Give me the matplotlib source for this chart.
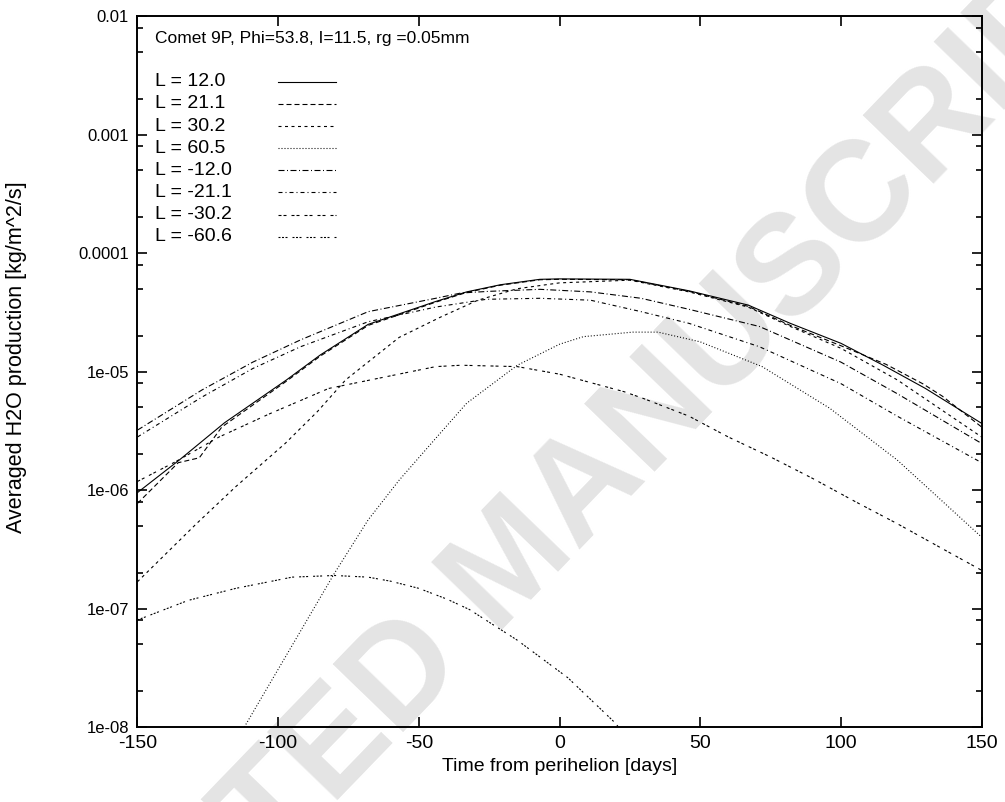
import numpy as np
import matplotlib
matplotlib.use("Agg")
import matplotlib.pyplot as plt
from matplotlib.ticker import LogLocator, FixedLocator, NullFormatter
from matplotlib.lines import Line2D

plt.rcParams['font.family'] = ['Liberation Sans', 'DejaVu Sans']
plt.rcParams['lines.scale_dashes'] = False

# ---- data ----
labels = ["L = 12.0", "L = 21.1", "L = 30.2", "L = 60.5",
          "L = -12.0", "L = -21.1", "L = -30.2", "L = -60.6"]

days_12 = [-150, -135, -119, -97, -85, -68, -44, -33, -21, -7, 0, 25, 46, 67, 82, 100, 115, 130, 150]
prod_12 = [9.5e-7, 1.8e-6, 3.7e-6, 8.5e-6, 1.38e-5, 2.5e-5, 3.9e-5, 4.7e-5, 5.4e-5, 6.0e-5, 6.05e-5, 6.0e-5,
           4.8e-5, 3.64e-5, 2.55e-5, 1.73e-5, 1.13e-5, 7.2e-6, 3.65e-6]

days_21 = [-150, -135.5, -128, -120, -97, -85, -68, -44, -33, -21, -7, 0, 25, 46, 67, 82, 100, 116, 129, 136, 150]
prod_21 = [7.7e-7, 1.7e-6, 1.87e-6, 3.4e-6, 8.3e-6, 1.35e-5, 2.45e-5, 3.85e-5, 4.65e-5, 5.35e-5, 5.95e-5, 6.0e-5,
           5.95e-5, 4.75e-5, 3.55e-5, 2.45e-5, 1.65e-5, 1.15e-5, 7.9e-6, 6.2e-6, 3.4e-6]

days_30 = [-150, -129, -115, -97.5, -86, -76, -57, -42, -29, -15, 0, 25, 46, 67, 82, 100, 120, 150]
prod_30 = [1.68e-7, 5.2e-7, 1.07e-6, 2.47e-6, 4.6e-6, 8.5e-6, 1.94e-5, 2.9e-5, 4.0e-5, 5.0e-5, 5.6e-5, 5.9e-5,
           4.7e-5, 3.5e-5, 2.4e-5, 1.57e-5, 8.5e-6, 2.8e-6]

days_60 = [-112, -80, -68, -57, -44, -33, -15, 0, 8.5, 26, 35, 50, 72, 96, 120, 150]
prod_60 = [1.0e-8, 1.98e-7, 5.6e-7, 1.21e-6, 2.73e-6, 5.4e-6, 1.13e-5, 1.7e-5, 1.97e-5, 2.15e-5, 2.15e-5,
           1.78e-5, 1.1e-5, 4.9e-6, 1.79e-6, 4.0e-7]

days_m12 = [-150, -127, -109, -92, -68, -44, -35, -25, -7, 11, 29, 46, 71, 100, 120, 150]
prod_m12 = [3.2e-6, 7.0e-6, 1.2e-5, 1.85e-5, 3.2e-5, 4.15e-5, 4.6e-5, 4.75e-5, 4.94e-5, 4.7e-5, 4.15e-5,
            3.35e-5, 2.4e-5, 1.2e-5, 6.5e-6, 2.47e-6]

days_m21 = [-150, -127, -109, -92, -68, -44, -26, -7, 11, 29, 46, 71, 100, 120, 150]
prod_m21 = [2.8e-6, 6.1e-6, 1.06e-5, 1.62e-5, 2.63e-5, 3.5e-5, 4.07e-5, 4.15e-5, 4.0e-5, 3.2e-5, 2.55e-5,
            1.62e-5, 7.9e-6, 4.2e-6, 1.7e-6]

days_m30 = [-150, -136.5, -121, -103, -82, -62, -44, -35, -15, 0, 23, 30, 46, 60, 75, 90, 105, 120, 135, 150]
prod_m30 = [1.18e-6, 1.73e-6, 2.8e-6, 4.4e-6, 7.2e-6, 9.0e-6, 1.1e-5, 1.13e-5, 1.1e-5, 9.5e-6, 6.75e-6, 5.9e-6,
            4.2e-6, 2.8e-6, 1.9e-6, 1.25e-6, 8.0e-7, 5.2e-7, 3.3e-7, 2.1e-7]

days_m60 = [-150, -132, -115, -95, -80, -68, -60, -50, -40, -32, -15, 3, 20, 23]
prod_m60 = [8.0e-8, 1.17e-7, 1.48e-7, 1.84e-7, 1.9e-7, 1.84e-7, 1.7e-7, 1.48e-7, 1.2e-7, 9.8e-8, 5.4e-8,
            2.6e-8, 1.07e-8, 8.5e-9]

xticks = [-150, -100, -50, 0, 50, 100, 150]
yticks = [1e-8, 1e-7, 1e-6, 1e-5, 1e-4, 1e-3, 1e-2]
ytick_labels = ["1e-08", "1e-07", "1e-06", "1e-05", "0.0001", "0.001", "0.01"]

series = [(days_12, prod_12), (days_21, prod_21), (days_30, prod_30), (days_60, prod_60),
          (days_m12, prod_m12), (days_m21, prod_m21), (days_m30, prod_m30), (days_m60, prod_m60)]

px = 0.72  # points per pixel at dpi 100
styles = [
    dict(linestyle='-'),
    dict(linestyle=(0, (5 * px, 3 * px))),
    dict(linestyle=(0, (3 * px, 3.5 * px))),
    dict(linestyle=(0, (1 * px, 2 * px))),
    dict(linestyle=(0, (6 * px, 2.5 * px, 1 * px, 2.5 * px))),
    dict(linestyle=(0, (4 * px, 3 * px, 1 * px, 3 * px))),
    dict(linestyle=(0, (3 * px, 2 * px, 3 * px, 5 * px))),
    dict(linestyle=(0, (2 * px, 1.5 * px, 2 * px, 1.5 * px, 2 * px, 5 * px))),
]

fig = plt.figure(figsize=(10.05, 8.02), dpi=100)
ax = fig.add_axes([0.1367, 0.0935, 0.8401, 0.8865])
ax.patch.set_alpha(0)

# watermark
fig.text(0.51, 0.295, "ACCEPTED MANUSCRIPT", fontsize=102, color='#e4e4e4', rotation=46,
         ha='center', va='center', zorder=-5, family='Liberation Sans', fontweight='bold')

for (d, v), st in zip(series, styles):
    ax.plot(d, v, color='black', lw=0.8, **st)

ax.set_yscale('log')
ax.set_xlim(-150, 150)
ax.set_ylim(1e-8, 1e-2)
ax.xaxis.set_major_locator(FixedLocator(xticks))
ax.set_xticklabels([str(t) for t in xticks])
ax.yaxis.set_major_locator(FixedLocator(yticks))
ax.set_yticklabels(ytick_labels)
ax.yaxis.set_minor_locator(LogLocator(base=10, subs=[2, 5, 8]))
ax.yaxis.set_minor_formatter(NullFormatter())

ax.tick_params(which='both', direction='in', top=True, right=True, width=1.2)
ax.tick_params(axis='x', labelsize=14)
ax.tick_params(axis='y', labelsize=12)
ax.tick_params(which='major', length=7.5, pad=6)
ax.tick_params(which='minor', length=4.5)
for s in ax.spines.values():
    s.set_linewidth(1.4)

ax.set_xlabel("Time from perihelion [days]", fontsize=14, labelpad=4)
ax.set_ylabel("Averaged H2O production [kg/m^2/s]", fontsize=15.5)
ax.yaxis.set_label_coords(-0.131, 0.52)

ax.text(0.0208, 0.969, "Comet 9P, Phi=53.8, I=11.5, rg =0.05mm", transform=ax.transAxes,
        fontsize=12.5, va='center', ha='left')
for i, (lab, st) in enumerate(zip(labels, styles)):
    yy = 0.9076 - 0.03115 * i
    ax.text(0.0208, yy, lab, transform=ax.transAxes, fontsize=14, va='center', ha='left')
    ax.add_line(Line2D([0.1665, 0.2352], [yy, yy], transform=ax.transAxes, color='black', lw=0.8, **st))

fig.savefig("out.png", dpi=100)
